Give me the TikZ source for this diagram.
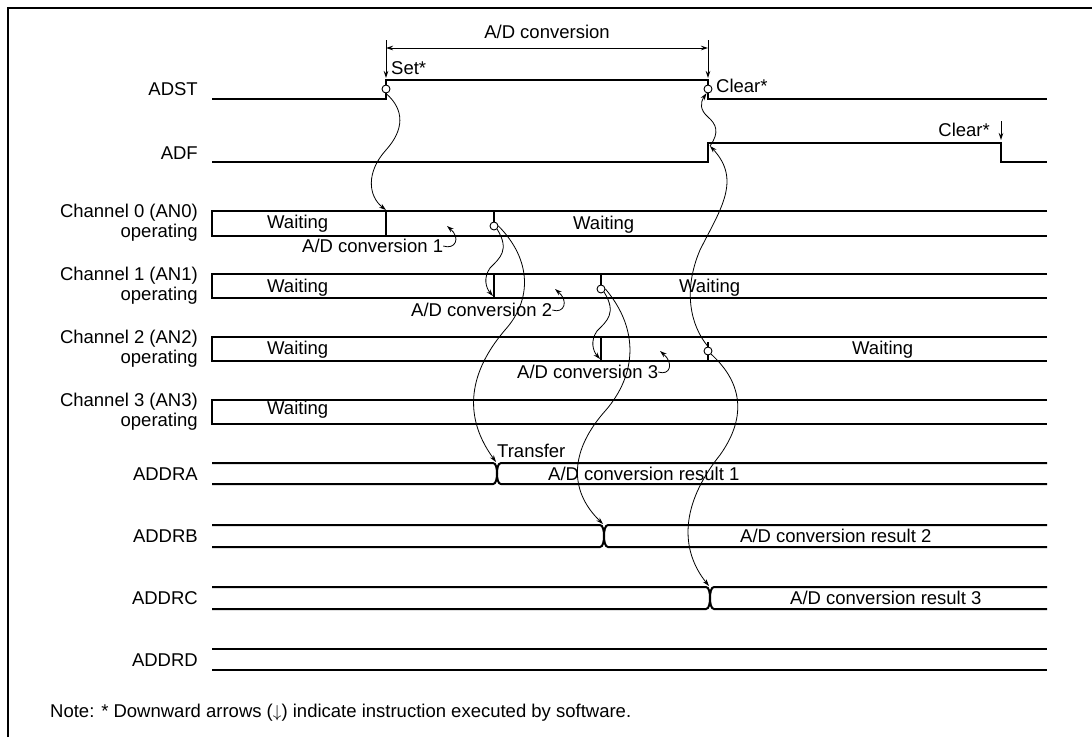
\documentclass[tikz,border=0pt]{standalone}
\usepackage{fontspec}
\setmainfont{Liberation Sans}
\usetikzlibrary{arrows.meta}
\begin{document}
\begin{tikzpicture}[x=1pt,y=-1pt,
  sig/.style={line width=2pt},
  frame/.style={line width=2pt},
  conn/.style={line width=0.8pt,-{Stealth[length=7pt,width=4.5pt]}},
  dimarrow/.style={line width=0.8pt,{Stealth[length=7pt,width=4.5pt]}-{Stealth[length=7pt,width=4.5pt]}},
  lbl/.style={font=\fontsize{18.5}{20}\selectfont,inner sep=0pt},
  dot/.style={circle,draw,fill=white,minimum size=8pt,inner sep=0pt,line width=0.9pt}]
\useasboundingbox (0,0) rectangle (1092,737);
\draw[frame] (8,737) -- (8,8) -- (1092,8);

% ---------- labels ----------
\node[lbl,anchor=east] (lADST) at (198,89) {ADST};
\node[lbl,anchor=east] (lADF) at (198,153) {ADF};
\node[lbl,anchor=east,align=right] (lch0) at (198,223) {Channel 0 (AN0)\\operating};
\node[lbl,anchor=east,align=right] (lch1) at (198,286) {Channel 1 (AN1)\\operating};
\node[lbl,anchor=east,align=right] (lch2) at (198,349) {Channel 2 (AN2)\\operating};
\node[lbl,anchor=east,align=right] (lch3) at (198,412) {Channel 3 (AN3)\\operating};
\node[lbl,anchor=east] (lA) at (198,474) {ADDRA};
\node[lbl,anchor=east] (lB) at (198,536) {ADDRB};
\node[lbl,anchor=east] (lC) at (198,598) {ADDRC};
\node[lbl,anchor=east] (lD) at (198,660) {ADDRD};

% ---------- ADST / ADF ----------
\draw[sig] (212,99) -- (386,99) -- (386,80) -- (708,80) -- (708,99) -- (1047,99);
\draw[sig] (212,162) -- (708,162) -- (708,143) -- (1001,143) -- (1001,162) -- (1047,162);
\coordinate (adfr) at (710,146);

% top annotations
\coordinate (v1a) at (386,40); \coordinate (v1b) at (386,78);
\coordinate (v2a) at (708,40); \coordinate (v2b) at (708,78);
\draw[conn] (v1a) -- (v1b);
\draw[conn] (v2a) -- (v2b);
\coordinate (dm1) at (386,48); \coordinate (dm2) at (708,48);
\draw[dimarrow] (dm1) -- (dm2);
\node[lbl] (tconv) at (547,32) {A/D conversion};
\node[lbl,anchor=west] (tset) at (391,68) {Set*};
\node[lbl,anchor=west] (tclr1) at (716,86) {Clear*};
\node[lbl,anchor=east] (tclr2) at (990,130) {Clear*};
\coordinate (v3a) at (1001,121); \coordinate (v3b) at (1001,140);
\draw[conn] (v3a) -- (v3b);

% ---------- channel bands ----------
\foreach \t/\b in {211/236,274/298,337/361,400/424}{
  \draw[sig] (1047,\t) -- (212,\t) -- (212,\b) -- (1047,\b);
}
\draw[sig] (386,211) -- (386,236);
\draw[sig] (494,211) -- (494,224);
\draw[sig] (494,274) -- (494,298);
\draw[sig] (601,274) -- (601,287);
\draw[sig] (601,337) -- (601,361);
\draw[sig] (708,342) -- (708,361);

\node[dot] (s1) at (386,89) {};
\node[dot] (s2) at (708,89) {};
\node[dot] (c0) at (494,226) {};
\node[dot] (c1) at (601,289) {};
\node[dot] (c2) at (708,351) {};

\node[lbl,anchor=west] (w00) at (267,224) {Waiting};
\node[lbl,anchor=west] (w01) at (573,225) {Waiting};
\node[lbl,anchor=west] (w10) at (267,288) {Waiting};
\node[lbl,anchor=west] (w11) at (679,288) {Waiting};
\node[lbl,anchor=west] (w20) at (267,350) {Waiting};
\node[lbl,anchor=west] (w21) at (852,350) {Waiting};
\node[lbl,anchor=west] (w30) at (267,410) {Waiting};

\node[lbl,anchor=west] (k1) at (302,246) {A/D conversion 1};
\node[lbl,anchor=west] (k2) at (411,310) {A/D conversion 2};
\node[lbl,anchor=west] (k3) at (517,372) {A/D conversion 3};
\coordinate (hk1) at (447,226);
\coordinate (hk2) at (555,289);
\coordinate (hk3) at (660,351);
\draw[conn] (k1.east) .. controls +(12,4) and +(14,12) .. (hk1);
\draw[conn] (k2.east) .. controls +(12,4) and +(14,12) .. (hk2);
\draw[conn] (k3.east) .. controls +(12,4) and +(14,12) .. (hk3);

% ---------- data registers ----------
\newcommand\mybus[3]{%
  \draw[sig] (212,#1) -- ({#3-4},#1) .. controls ({#3-1},#1) and (#3,{(#1+#2)/2-5}) .. (#3,{(#1+#2)/2})
     .. controls (#3,{(#1+#2)/2+5}) and ({#3-1},#2) .. ({#3-4},#2) -- (212,#2);
  \draw[sig] (1047,#1) -- ({#3+4},#1) .. controls ({#3+1},#1) and (#3,{(#1+#2)/2-5}) .. (#3,{(#1+#2)/2})
     .. controls (#3,{(#1+#2)/2+5}) and ({#3+1},#2) .. ({#3+4},#2) -- (1047,#2);}
\mybus{463}{484}{497}
\mybus{525}{547}{604}
\mybus{587}{609}{710}
\draw[sig] (212,649) -- (1047,649);
\draw[sig] (212,670) -- (1047,670);
\coordinate (xa) at (496,462);
\coordinate (xb) at (603,524);
\coordinate (xc) at (709,586);

\node[lbl,anchor=west] (ttr) at (497,451) {Transfer};
\node[lbl,anchor=west] (r1) at (548,474) {A/D conversion result 1};
\node[lbl,anchor=west] (r2) at (740,536) {A/D conversion result 2};
\node[lbl,anchor=west] (r3) at (790,598) {A/D conversion result 3};

% ---------- connectors ----------
\coordinate (d0) at (386,210);
\coordinate (d1) at (493,296);
\coordinate (d2) at (600,359);
\draw[conn] (s1.south) .. controls (405,110) and (404,130) .. (386,150) .. controls (366,172) and (368,196) .. (d0);
\draw[conn] (adfr) .. controls (720,132) and (716,124) .. (708,117) .. controls (700,110) and (700,103) .. (s2.-110);
\draw[conn] (c2.north) .. controls (690,325) and (683,290) .. (700,250) .. controls (720,210) and (742,180) .. (adfr);
\draw[conn] (c2.south east) .. controls (745,385) and (745,420) .. (720,455) .. controls (680,505) and (680,550) .. (xc);
\draw[conn] (c0.south east) .. controls (510,250) and (500,258) .. (490,268) .. controls (483,278) and (486,288) .. (d1);
\draw[conn] (c0.east) .. controls (532,260) and (532,300) .. (505,330) .. controls (475,365) and (458,410) .. (xa);
\draw[conn] (c1.south east) .. controls (617,313) and (607,321) .. (597,331) .. controls (590,341) and (593,351) .. (d2);
\draw[conn] (c1.east) .. controls (640,330) and (636,375) .. (606,410) .. controls (570,450) and (568,490) .. (xb);

\node[lbl,anchor=west] (note) at (50,713) {Note: * Downward arrows ($\downarrow$) indicate instruction executed by software.};
\end{tikzpicture}
\end{document}
